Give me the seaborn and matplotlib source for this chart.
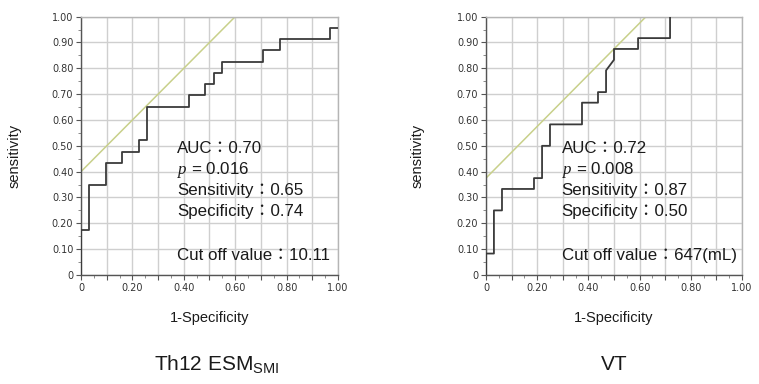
import matplotlib
matplotlib.use("Agg")
import matplotlib.pyplot as plt
from matplotlib.ticker import MultipleLocator, FixedLocator, FixedFormatter
import seaborn as sns
import pandas as pd

# ROC curve vertices (1-specificity, sensitivity)
fpr_esm = [0, 0, 0.032, 0.032, 0.097, 0.097, 0.161, 0.161, 0.226, 0.226, 0.258, 0.258,
           0.419, 0.419, 0.484, 0.484, 0.516, 0.516, 0.548, 0.548, 0.710, 0.710,
           0.774, 0.774, 0.968, 0.968, 1.0]
tpr_esm = [0, 0.174, 0.174, 0.348, 0.348, 0.435, 0.435, 0.478, 0.478, 0.522, 0.522, 0.652,
           0.652, 0.696, 0.696, 0.739, 0.739, 0.783, 0.783, 0.826, 0.826, 0.870,
           0.870, 0.913, 0.913, 0.957, 0.957]

fpr_vt = [0, 0, 0.031, 0.031, 0.0625, 0.0625, 0.1875, 0.1875, 0.219, 0.219, 0.25, 0.25,
          0.375, 0.375, 0.4375, 0.4375, 0.469, 0.469, 0.5, 0.5, 0.594, 0.594, 0.719, 0.719]
tpr_vt = [0, 0.083, 0.083, 0.25, 0.25, 0.333, 0.333, 0.375, 0.375, 0.5, 0.5, 0.583,
          0.583, 0.667, 0.667, 0.708, 0.708, 0.792, 0.833, 0.875, 0.875, 0.917, 0.917, 1.0]

# tangent (Youden) lines
tan_x_esm = [0, 0.6]
tan_y_esm = [0.4, 1.0]
tan_x_vt = [0, 0.625]
tan_y_vt = [0.375, 1.0]

titles = ["Th12 ESM$_{\\mathregular{SMI}}$", "VT"]
auc = ["0.70", "0.72"]
pvals = ["0.016", "0.008"]
sens = ["0.65", "0.87"]
spec = ["0.74", "0.50"]
cutoff = ["10.11", "647(mL)"]

sns.set_style("white")
plt.rcParams['font.family'] = ['Liberation Sans', 'Noto Sans CJK JP', 'DejaVu Sans']
plt.rcParams['mathtext.fontset'] = 'custom'
plt.rcParams['mathtext.rm'] = 'Liberation Sans'
plt.rcParams['mathtext.it'] = 'Liberation Serif:italic'

fig = plt.figure(figsize=(7.59, 3.84), dpi=100)
ax1 = fig.add_axes([0.1067, 0.2839, 0.3386, 0.6727])
ax2 = fig.add_axes([0.6403, 0.2839, 0.3373, 0.6727])

curves = [(fpr_esm, tpr_esm, tan_x_esm, tan_y_esm), (fpr_vt, tpr_vt, tan_x_vt, tan_y_vt)]
text_x = [0.373, 0.296]
title_x = [0.286, 0.809]
ylab_x = [15 / 759, 418 / 759]

xt = [i / 10 for i in range(11)]
xlabels = ["0" if i == 0 else (f"{v:.2f}" if i % 2 == 0 else "") for i, v in enumerate(xt)]
ylabels = ["0"] + [f"{v:.2f}" for v in xt[1:]]

for k, ax in enumerate([ax1, ax2]):
    fx, ty, lx, ly = curves[k]
    df = pd.DataFrame({"fpr": fx, "tpr": ty})
    sns.lineplot(data=df, x="fpr", y="tpr", sort=False, estimator=None,
                 color="#3a3a3a", linewidth=1.3, ax=ax, zorder=3)
    sns.lineplot(x=lx, y=ly, color="#c8d08a", linewidth=1.1, ax=ax, zorder=2)
    ax.set_xlim(0, 1)
    ax.set_ylim(0, 1)
    ax.xaxis.set_major_locator(FixedLocator(xt))
    ax.xaxis.set_major_formatter(FixedFormatter(xlabels))
    ax.yaxis.set_major_locator(FixedLocator(xt))
    ax.yaxis.set_major_formatter(FixedFormatter(ylabels))
    ax.xaxis.set_minor_locator(MultipleLocator(0.05))
    ax.yaxis.set_minor_locator(MultipleLocator(0.05))
    ax.grid(True, which="major", color="#cfcfcf", linewidth=1.0)
    ax.tick_params(which="major", direction="out", length=3.5, width=0.8, color="#555555",
                   labelsize=7, pad=2, bottom=True, left=True)
    ax.tick_params(which="minor", direction="out", length=2, width=0.6, color="#777777",
                   bottom=True, left=True)
    for lab in ax.get_xticklabels() + ax.get_yticklabels():
        lab.set_fontfamily("DejaVu Sans")
        lab.set_color("#333333")
    for s in ["left", "bottom"]:
        ax.spines[s].set_color("#555555")
        ax.spines[s].set_linewidth(1.0)
    for s in ["top", "right"]:
        ax.spines[s].set_color("#b5b5b5")
        ax.spines[s].set_linewidth(1.0)
    ax.set_xlabel("1-Specificity", fontsize=10.5, labelpad=13, color="#1a1a1a")
    ax.set_ylabel("")

    tx = text_x[k]
    fs = 12.2
    ax.text(tx, 0.4735, "AUC：" + auc[k], fontsize=fs, va="baseline", color="#1a1a1a", zorder=4)
    ax.text(tx, 0.391, "$\\mathit{p}$ = " + pvals[k], fontsize=fs, va="baseline", color="#1a1a1a", zorder=4)
    ax.text(tx, 0.310, "Sensitivity：" + sens[k], fontsize=fs, va="baseline", color="#1a1a1a", zorder=4)
    ax.text(tx, 0.228, "Specificity：" + spec[k], fontsize=fs, va="baseline", color="#1a1a1a", zorder=4)
    ax.text(tx, 0.058, "Cut off value：" + cutoff[k], fontsize=fs, va="baseline", color="#1a1a1a", zorder=4)

    fig.text(ylab_x[k], 1 - 156 / 384, "sensitivity", rotation=90, fontsize=10.5,
             ha="center", va="center", color="#1a1a1a")
    fig.text(title_x[k], 1 - 364 / 384, titles[k], fontsize=15, ha="center", va="center",
             color="#1a1a1a")

fig.savefig("out.png", dpi=100)
